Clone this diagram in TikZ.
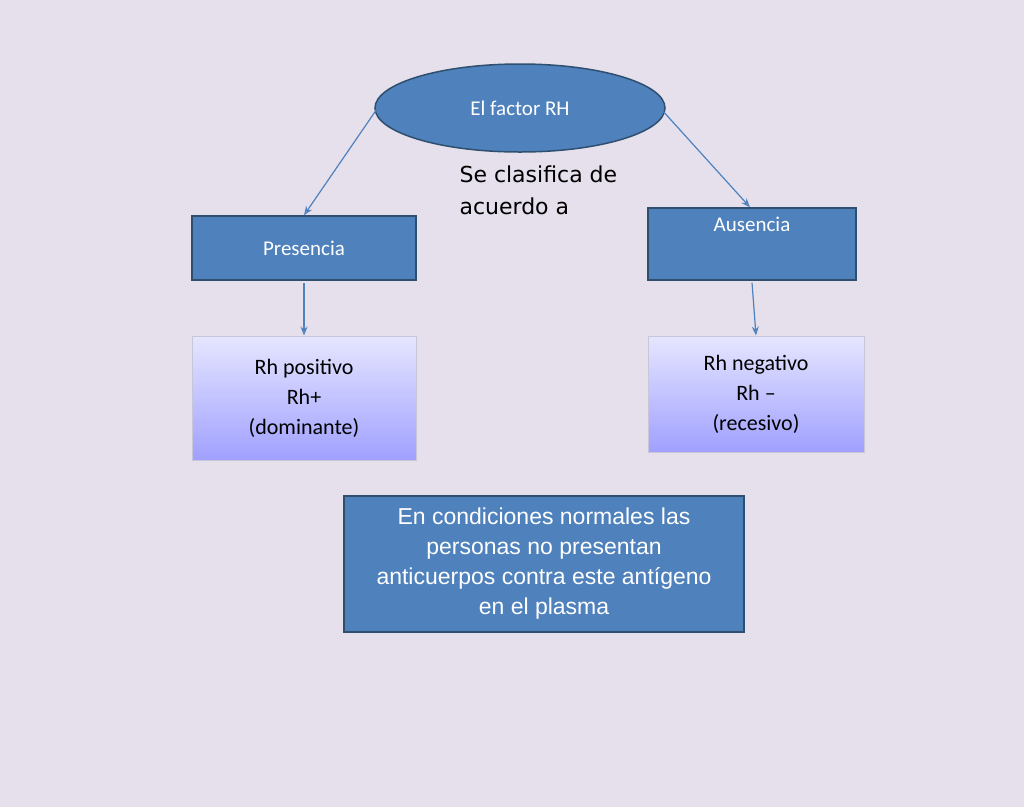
\documentclass[tikz,border=0pt]{standalone}
\usepackage{fontspec}
\setmainfont{Carlito}
\newfontfamily\arialfont{Liberation Sans}
\newfontfamily\dejafont{DejaVu Sans}
\usetikzlibrary{shapes.geometric}
\usetikzlibrary{arrows.meta}
\definecolor{bg colour}{HTML}{E5E0EC}
\definecolor{box colour}{HTML}{4F81BD}
\definecolor{edge colour}{HTML}{2F4F6F}
\definecolor{light colour}{HTML}{E6E6FF}
\definecolor{deep colour}{HTML}{A0A0FF}
\tikzset{
    >={Stealth[length=9pt,width=7pt,open]},
    every node/.style={align=center},
    % Solid blue boxes
    blue box/.style={draw=edge colour, line width=1.5pt, fill=box colour,
        text=white, font=\fontsize{21}{25}\selectfont, inner sep=0},
    % Light shaded boxes
    shade box/.style={draw=light colour!70!gray, line width=1pt,
        top color=light colour, bottom color=deep colour,
        text=black, font=\fontsize{22}{30}\selectfont, inner sep=0},
    link/.style={draw=box colour, line width=1.2pt, ->},
}
\begin{document}
\begin{tikzpicture}[x=1pt, y=-1pt]
\fill [bg colour] (0,0) rectangle (1024,807);
\useasboundingbox (0,0) rectangle (1024,807);

% Top concept
\node [blue box, ellipse, minimum width=290pt, minimum height=88pt]
    (factor) at (520,108) {El factor RH};
\node [anchor=north west, font=\dejafont\fontsize{22}{32}\selectfont, align=left]
    (clasifica) at (456,162) {Se clasifica de\\acuerdo a};

% Two branches
\node [blue box, minimum width=224pt, minimum height=64pt]
    (presencia) at (304,248) {Presencia};
\node [blue box, minimum width=208pt, minimum height=72pt]
    (ausencia) at (752,244) {Ausencia\\[14pt]};
\node [shade box, minimum width=224pt, minimum height=124pt]
    (positivo) at (304,398) {Rh positivo\\Rh+\\(dominante)};
\node [shade box, minimum width=216pt, minimum height=116pt]
    (negativo) at (756,394) {Rh negativo\\Rh --\\(recesivo)};

% Note at the bottom
\node [blue box, minimum width=400pt, minimum height=136pt,
    font=\arialfont\fontsize{23}{30}\selectfont]
    (nota) at (544,564) {En condiciones normales las\\personas no presentan\\anticuerpos contra este antígeno\\en el plasma};

\draw [link] (factor.west) ++(2,2) -- (presencia.north);
\draw [link] (factor.east) ++(-2,4) -- ([xshift=-2pt]ausencia.north);
\draw [link] ([yshift=-2pt]presencia.south) -- (positivo.north);
\draw [link] ([yshift=-2pt]ausencia.south) -- (negativo.north);
\end{tikzpicture}
\end{document}
